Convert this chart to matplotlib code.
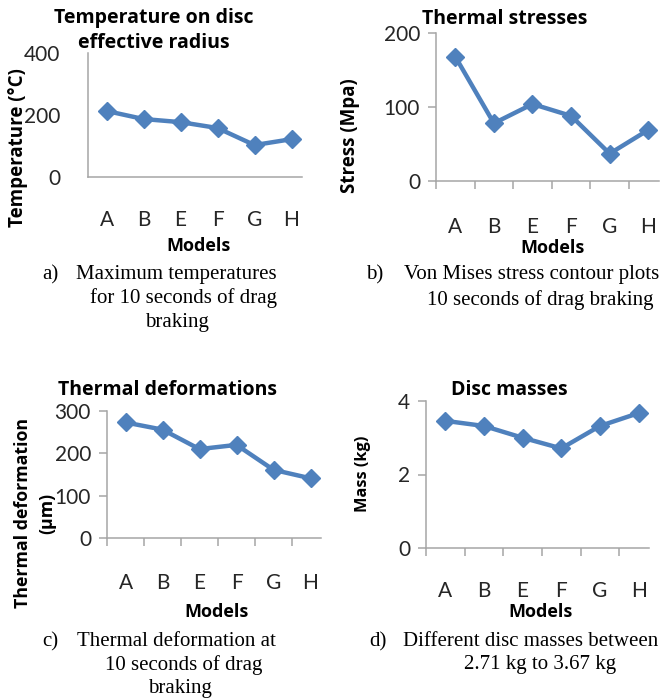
import matplotlib.pyplot as plt
import numpy as np

W, H = 664, 699
BLUE = "#4F81BD"
AXIS_GRAY = "#A6A6A6"
SANS = "Lato"
BOLD = "Open Sans"
SERIF = "Liberation Serif"

models = ["A", "B", "E", "F", "G", "H"]
temperature = [213, 187, 177, 158, 103, 122]
stress = [168, 78, 104, 88, 37, 69]
deformation = [273, 256, 210, 220, 161, 141]
mass = [3.46, 3.32, 3.00, 2.71, 3.32, 3.67]

temp_ticks = [0, 200, 400]
stress_ticks = [0, 100, 200]
deform_ticks = [0, 100, 200, 300]
mass_ticks = [0, 2, 4]


def px_axes(fig, left, right, top, bottom):
    # pixel box (from top-left) -> figure fraction
    return fig.add_axes([left / W, 1 - bottom / H, (right - left) / W, (bottom - top) / H])


def fig_text(fig, x, y, s, **kw):
    return fig.text(x / W, 1 - y / H, s, **kw)


def draw_panel(ax, values, yticks, ticks_on=True, ypad=6, xpad=25):
    x = np.arange(len(models))
    ax.plot(x, values, color=BLUE, linewidth=3.2, marker="D", markersize=9.5,
            markerfacecolor=BLUE, markeredgecolor=BLUE, clip_on=False, zorder=3)
    ax.set_xlim(-0.5, 5.27)
    ax.set_ylim(yticks[0], yticks[-1])
    ax.set_yticks(yticks)
    ax.set_xticks(x, models)
    for side in ["top", "right"]:
        ax.spines[side].set_visible(False)
    for side in ["left", "bottom"]:
        ax.spines[side].set_color(AXIS_GRAY)
        ax.spines[side].set_linewidth(1.1)
    ax.tick_params(axis="x", length=0, pad=xpad, labelsize=15, labelcolor="#262626")
    if ticks_on:
        ax.set_xticks(np.arange(-0.5, 5.0, 1), minor=True)
        ax.tick_params(axis="x", which="minor", length=5.5, width=1.1, color=AXIS_GRAY)
        ax.tick_params(axis="y", length=5.5, width=1.1, color=AXIS_GRAY, pad=ypad,
                       labelsize=15, labelcolor="#262626")
    else:
        ax.tick_params(axis="y", length=0, pad=ypad, labelsize=15, labelcolor="#262626")
    for lab in ax.get_xticklabels() + ax.get_yticklabels():
        lab.set_fontfamily(SANS)


def main():
    fig = plt.figure(figsize=(W / 100, H / 100), dpi=100)

    ax_a = px_axes(fig, 88, 301.5, 53, 177)
    draw_panel(ax_a, temperature, temp_ticks, ticks_on=False, ypad=20, xpad=24)
    ax_b = px_axes(fig, 436, 658.7, 33, 181)
    draw_panel(ax_b, stress, stress_ticks, xpad=26)
    ax_c = px_axes(fig, 107, 320.5, 411, 538)
    draw_panel(ax_c, deformation, deform_ticks)
    ax_d = px_axes(fig, 426, 649, 401, 548)
    draw_panel(ax_d, mass, mass_ticks, xpad=24)

    title_kw = dict(family=BOLD, fontweight="bold", fontsize=14, ha="center", va="center")
    fig_text(fig, 154, 30.5, "Temperature on disc\neffective radius", linespacing=1.3, **title_kw)
    fig_text(fig, 505, 19, "Thermal stresses", **title_kw)
    fig_text(fig, 167, 390, "Thermal deformations", **title_kw)
    fig_text(fig, 509, 390, "Disc masses", **title_kw)

    lab_kw = dict(family=BOLD, fontweight="bold", ha="center", va="center")
    for x, y in [(198, 246), (553, 248), (217, 612), (541, 612)]:
        fig_text(fig, x, y, "Models", fontsize=13, **lab_kw)
    fig_text(fig, 18, 148, "Temperature (°C)", rotation=90, fontsize=13.5, **lab_kw)
    fig_text(fig, 350, 136, "Stress (Mpa)", rotation=90, fontsize=13.5, **lab_kw)
    fig_text(fig, 35, 513, "Thermal deformation\n(µm)", rotation=90, linespacing=1.4,
             fontsize=12.8, **lab_kw)
    fig_text(fig, 363, 474, "Mass (kg)", rotation=90, fontsize=11.8, **lab_kw)

    # captions
    cap_kw = dict(family=SERIF, fontsize=15, va="center")
    captions = [
        (42, 275, "a)", [(176, 275, "Maximum temperatures"),
                         (183, 298, "for 10 seconds of drag"),
                         (177, 322, "braking")]),
        (366, 275, "b)", [(532, 275, "Von Mises stress contour plots"),
                          (540, 300, "10 seconds of drag braking")]),
        (42, 642, "c)", [(176, 642, "Thermal deformation at"),
                         (184, 665, "10 seconds of drag"),
                         (180, 688, "braking")]),
        (369, 642, "d)", [(531, 642, "Different disc masses between"),
                          (540, 665, "2.71 kg to 3.67 kg")]),
    ]
    for lx, ly, letter, lines in captions:
        fig_text(fig, lx, ly, letter, ha="left", **cap_kw)
        for cx, cy, s in lines:
            fig_text(fig, cx, cy, s, ha="center", **cap_kw)

    fig.savefig("out.png", dpi=100, facecolor="white")


if __name__ == "__main__":
    main()
